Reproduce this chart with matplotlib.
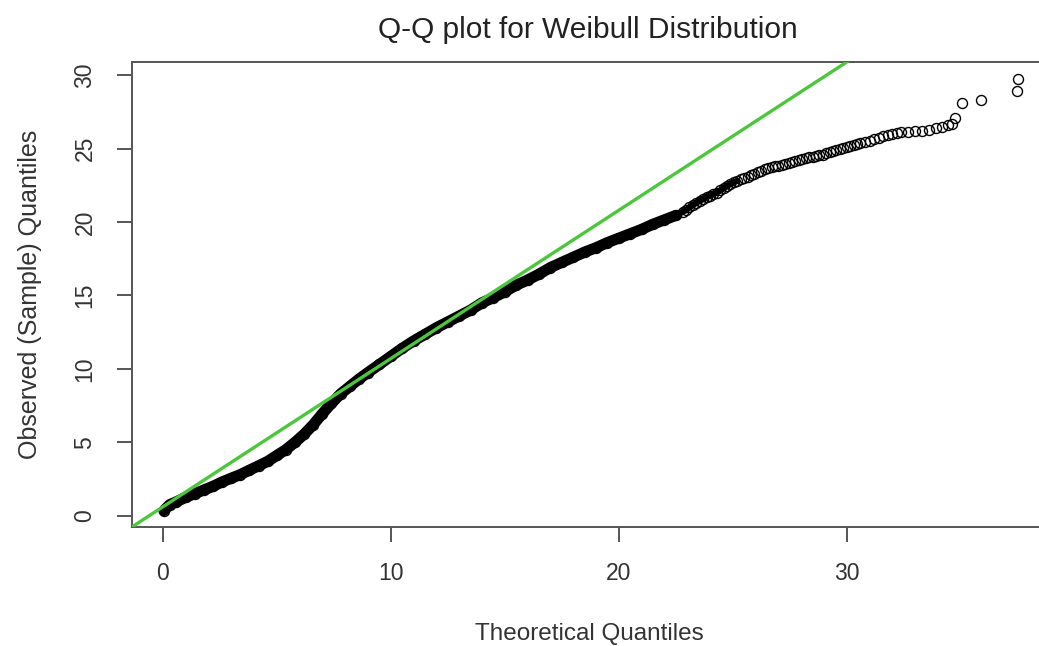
import matplotlib
matplotlib.use("Agg")
import matplotlib.pyplot as plt

plt.rcParams["font.family"] = ["Liberation Sans", "DejaVu Sans"]

# dense part of the sample (heavily overplotted band)
theo_band = [0.05, 0.3, 0.6, 1.0, 1.4, 1.8, 2.2, 2.6, 3.0, 3.4, 3.8, 4.2, 4.6,
             5.0, 5.4, 5.8, 6.2, 6.6, 7.0, 7.4, 7.8, 8.2, 8.6, 9.0, 9.5, 10.0,
             10.5, 11.0, 11.5, 12.0, 12.5, 13.0, 13.5, 14.0, 14.5, 15.0, 15.5,
             16.0, 16.5, 17.0, 17.5, 18.0, 18.5, 19.0, 19.5, 20.0, 20.5, 21.0,
             21.5, 22.0, 22.5]
obs_band = [0.35, 0.75, 0.95, 1.25, 1.5, 1.75, 2.0, 2.3, 2.55, 2.8, 3.1, 3.4, 3.7,
            4.1, 4.5, 5.0, 5.55, 6.2, 6.95, 7.65, 8.3, 8.8, 9.3, 9.75, 10.3, 10.85,
            11.4, 11.9, 12.35, 12.8, 13.2, 13.6, 14.0, 14.5, 14.85, 15.25, 15.7,
            16.05, 16.45, 16.9, 17.25, 17.6, 17.95, 18.25, 18.6, 18.9, 19.2, 19.5,
            19.85, 20.15, 20.45]

# upper part, circles still overlapping
theo_upper = [22.8, 22.95, 23.1, 23.25, 23.4, 23.55, 23.7, 23.85, 24.0, 24.15,
              24.3, 24.45, 24.6, 24.75, 24.9, 25.05, 25.2, 25.35, 25.5, 25.65,
              25.8, 25.95, 26.1, 26.25, 26.4, 26.55, 26.7, 26.85, 27.0, 27.15,
              27.3, 27.45, 27.6, 27.75, 27.9, 28.05, 28.2, 28.35, 28.5, 28.65,
              28.8, 28.95, 29.1, 29.25, 29.4, 29.55, 29.7, 29.85, 30.0, 30.15,
              30.3, 30.45, 30.6, 30.8, 31.0, 31.2, 31.4, 31.6, 31.8, 32.0, 32.2,
              32.4, 32.7, 33.0, 33.3, 33.6, 33.9, 34.2, 34.45, 34.6]
obs_upper = [20.7, 20.8, 21.0, 21.15, 21.3, 21.45, 21.55, 21.7, 21.8, 21.9,
             22.0, 22.15, 22.3, 22.45, 22.6, 22.7, 22.8, 22.9, 23.0, 23.1,
             23.2, 23.3, 23.4, 23.5, 23.6, 23.7, 23.75, 23.8, 23.85, 23.9,
             23.95, 24.0, 24.1, 24.15, 24.2, 24.3, 24.35, 24.4, 24.45, 24.5,
             24.55, 24.6, 24.7, 24.75, 24.85, 24.9, 25.0, 25.05, 25.1, 25.2,
             25.25, 25.3, 25.35, 25.45, 25.55, 25.65, 25.75, 25.85, 25.95, 26.0, 26.05,
             26.1, 26.15, 26.2, 26.22, 26.28, 26.38, 26.48, 26.6, 26.7]

# extreme points
theo_outer = [34.75, 35.05, 35.9, 37.45, 37.5]
obs_outer = [27.1, 28.1, 28.3, 28.9, 29.75]

# reference line (qqline)
line_intercept = 0.6
line_slope = 1.01

x_ticks = [0, 10, 20, 30]
y_ticks = [0, 5, 10, 15, 20, 25, 30]

fig = plt.figure(figsize=(10.39, 6.46), dpi=100)
ax = fig.add_axes([132 / 1039, 1 - 527 / 646, (1046 - 132) / 1039, (527 - 62) / 646])

# overplotting makes the circles merge into a solid band
ax.plot(theo_band, obs_band, color="black", lw=8, solid_capstyle="round", zorder=2)
n_solid = sum(1 for v in theo_upper if v <= 25.2)
ax.plot([theo_band[-1]] + theo_upper[:n_solid], [obs_band[-1]] + obs_upper[:n_solid],
        color="black", lw=4.5, solid_capstyle="round", zorder=2)
ax.plot(theo_band + theo_upper + theo_outer, obs_band + obs_upper + obs_outer,
        linestyle="none", marker="o", markersize=7.2, markerfacecolor="none",
        markeredgecolor="black", markeredgewidth=1.0, zorder=3)
ax.axline((0, line_intercept), slope=line_slope, color="#4CC63C", lw=2.4, zorder=4)

ax.set_xlim(-1.35, 38.74)
ax.set_ylim(-0.77, 30.9)
ax.set_xticks(x_ticks)
ax.set_yticks(y_ticks)
ax.set_yticklabels([str(v) for v in y_ticks], rotation=90, va="center")

for side in ["left", "bottom", "top"]:
    ax.spines[side].set_color("#555555")
    ax.spines[side].set_linewidth(1.4)
ax.spines["right"].set_visible(False)
ax.tick_params(direction="out", length=10.5, width=1.4, color="#555555",
               labelsize=16.5, labelcolor="#333333", pad=15)

ax.set_title("Q-Q plot for Weibull Distribution", fontsize=21.5, color="#222222", pad=17,
             x=(588 - 132) / (1046 - 132))
ax.set_xlabel("Theoretical Quantiles", fontsize=17.5, color="#333333", labelpad=27)
ax.set_ylabel("Observed (Sample) Quantiles", fontsize=18, color="#333333", labelpad=23)

fig.savefig("out.png", dpi=100)
